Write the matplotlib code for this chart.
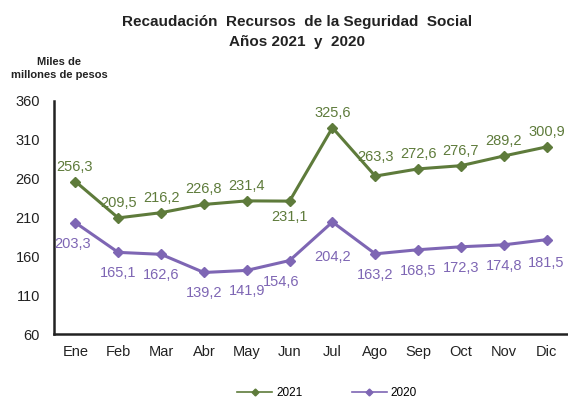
import matplotlib
matplotlib.use("Agg")
import matplotlib.pyplot as plt
from matplotlib.lines import Line2D

plt.rcParams['font.family'] = ['Liberation Sans', 'DejaVu Sans']

months = ["Ene", "Feb", "Mar", "Abr", "May", "Jun", "Jul", "Ago", "Sep", "Oct", "Nov", "Dic"]
v2021 = [256.3, 209.5, 216.2, 226.8, 231.4, 231.1, 325.6, 263.3, 272.6, 276.7, 289.2, 300.9]
v2020 = [203.3, 165.1, 162.6, 139.2, 141.9, 154.6, 204.2, 163.2, 168.5, 172.3, 174.8, 181.5]
yticks = [60, 110, 160, 210, 260, 310, 360]

green = "#5E7B3B"
purple = "#7E66B4"

fig = plt.figure(figsize=(5.68, 4.0), dpi=100)
ax = fig.add_axes([54/568, 1 - 334/400, 1 - 54/568, 233/400])

x = list(range(len(months)))
ax.plot(x, v2021, color=green, lw=2.2, marker="D", ms=5.5, label="2021")
ax.plot(x, v2020, color=purple, lw=2.2, marker="D", ms=5.5, label="2020")

def fmt(v):
    return f"{v:.1f}".replace(".", ",")

for i, v in enumerate(v2021):
    dy = 15
    dx = 0
    if months[i] == "Jun":
        dy = -16
    if months[i] == "Ago":
        dy = 19
    if months[i] == "Ene":
        dx = -1
    ax.annotate(fmt(v), (i, v), xytext=(dx, dy), textcoords="offset pixels",
                ha="center", va="center", color=green, fontsize=10.5)

for i, v in enumerate(v2020):
    dy = -21
    dx = 0
    if months[i] == "Ene":
        dx = -3
    if months[i] == "Jun":
        dx = -8
    if months[i] == "Jul":
        dy = -35
    if months[i] == "Dic":
        dy = -23
    ax.annotate(fmt(v), (i, v), xytext=(dx, dy), textcoords="offset pixels",
                ha="center", va="center", color=purple, fontsize=10.5)

ax.set_xlim(-0.5, 11.5)
ax.set_ylim(60, 360)
ax.set_yticks(yticks)
ax.set_yticklabels([str(t) for t in yticks], fontsize=10.5, color="#222222")
ax.set_xticks(x)
ax.set_xticklabels(months, fontsize=10.5, color="#222222")
ax.tick_params(axis="y", length=0, pad=10)
ax.tick_params(axis="x", length=0, pad=8)
for s in ["top", "right"]:
    ax.spines[s].set_visible(False)
ax.spines["left"].set_color("#222222")
ax.spines["bottom"].set_color("#222222")
ax.spines["left"].set_linewidth(1.8)
ax.spines["bottom"].set_linewidth(1.8)

fig.text(297/568, 1 - 22/400, "Recaudación  Recursos  de la Seguridad  Social",
         ha="center", va="center", fontsize=11, fontweight="bold", color="#222222")
fig.text(297/568, 1 - 42/400, "Años 2021  y  2020",
         ha="center", va="center", fontsize=11, fontweight="bold", color="#222222")
fig.text(59/568, 1 - 62/400, "Miles de", ha="center", va="center",
         fontsize=8, fontweight="bold", color="#222222")
fig.text(59/568, 1 - 75/400, "millones de pesos", ha="center", va="center",
         fontsize=8, fontweight="bold", color="#222222")

handles = [Line2D([], [], color=green, lw=1.2, marker="D", ms=3.5),
           Line2D([], [], color=purple, lw=1.2, marker="D", ms=3.5)]
fig.legend(handles, ["2021", "2020"], loc="center", bbox_to_anchor=(327/568, 1 - 393/400),
           ncol=2, frameon=False, fontsize=8.5, handlelength=3.0, columnspacing=4.2,
           handletextpad=0.3, borderpad=0, borderaxespad=0)

fig.savefig("out.png", dpi=100)
